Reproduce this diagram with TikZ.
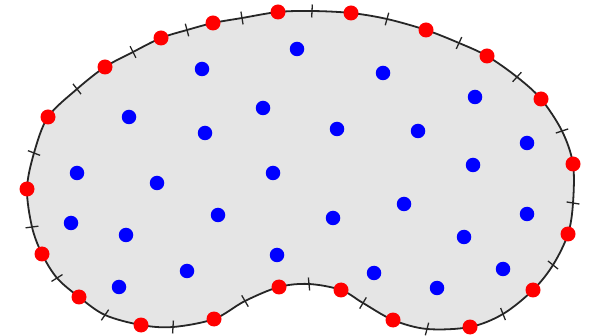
\documentclass[tikz,border=0pt]{standalone}
\usetikzlibrary{calc}
\begin{document}
\begin{tikzpicture}[x=1pt,y=-1pt,
  outline/.style={draw=black!85,line width=1.8pt,fill=black!10},
  tickmark/.style={draw=black!85,line width=1.3pt},
  reddot/.style={circle,fill=red,inner sep=0pt,minimum size=15pt},
  bluedot/.style={circle,fill=blue,inner sep=0pt,minimum size=14.5pt}]
\useasboundingbox (0,0) rectangle (591,336);
% boundary points: p = red positions, t = tick positions
\coordinate (p1) at (278,12);  \coordinate (t1) at (312,11);
\coordinate (p2) at (351,13);  \coordinate (t2) at (387,19);
\coordinate (p3) at (426,30);  \coordinate (t3) at (459,43);
\coordinate (p4) at (487,56);  \coordinate (t4) at (517,77);
\coordinate (p5) at (541,99);  \coordinate (t5) at (562,131);
\coordinate (p6) at (573,164); \coordinate (t6) at (573,203);
\coordinate (p7) at (568,234); \coordinate (t7) at (553,265);
\coordinate (p8) at (533,290); \coordinate (t8) at (503,314);
\coordinate (p9) at (470,327); \coordinate (t9) at (427,329);
\coordinate (p10) at (393,320); \coordinate (t10) at (363,303);
\coordinate (p11) at (341,290); \coordinate (t11) at (309,284);
\coordinate (p12) at (279,287); \coordinate (t12) at (245,301);
\coordinate (p13) at (214,319); \coordinate (t13) at (173,327);
\coordinate (p14) at (141,325); \coordinate (t14) at (105,315);
\coordinate (p15) at (79,297);  \coordinate (t15) at (57,278);
\coordinate (p16) at (42,254);  \coordinate (t16) at (32,227);
\coordinate (p17) at (27,189);  \coordinate (t17) at (34,153);
\coordinate (p18) at (48,117);  \coordinate (t18) at (77,89);
\coordinate (p19) at (105,67);  \coordinate (t19) at (133,52);
\coordinate (p20) at (161,38);  \coordinate (t20) at (187,30);
\coordinate (p21) at (213,23);  \coordinate (t21) at (242,18);
\draw[outline] plot[smooth cycle,tension=0.55] coordinates {
  (p1) (t1) (p2) (t2) (p3) (t3) (p4) (t4) (p5) (t5) (p6) (t6) (p7) (t7)
  (p8) (t8) (p9) (t9) (p10) (t10) (p11) (t11) (p12) (t12) (p13) (t13) (p14) (t14)
  (p15) (t15) (p16) (t16) (p17) (t17) (p18) (t18) (p19) (t19) (p20) (t20) (p21) (t21)};
% tick marks
\foreach \i/\n in {1/2,2/3,3/4,4/5,5/6,6/7,7/8,8/9,9/10,10/11,11/12,12/13,13/14,14/15,15/16,16/17,17/18,18/19,19/20,20/21,21/1}{
  \coordinate (ta\i) at ($(t\i)!6.5pt!90:(p\n)$);
  \coordinate (tb\i) at ($(t\i)!6.5pt!-90:(p\n)$);
  \draw[tickmark] (ta\i) -- (tb\i);
}
% red dots
\foreach \i in {1,...,21}{
  \node[reddot] (r\i) at (p\i) {};
}
% blue dots
\foreach \x/\y [count=\k] in {297/49,202/69,383/73,475/97,263/108,129/117,205/133,337/129,418/131,527/143,
  77/173,157/183,273/173,473/165,218/215,333/218,404/204,527/214,71/223,126/235,
  464/237,277/255,187/271,374/273,503/269,119/287,437/288}{
  \node[bluedot] (b\k) at (\x,\y) {};
}
\end{tikzpicture}
\end{document}
